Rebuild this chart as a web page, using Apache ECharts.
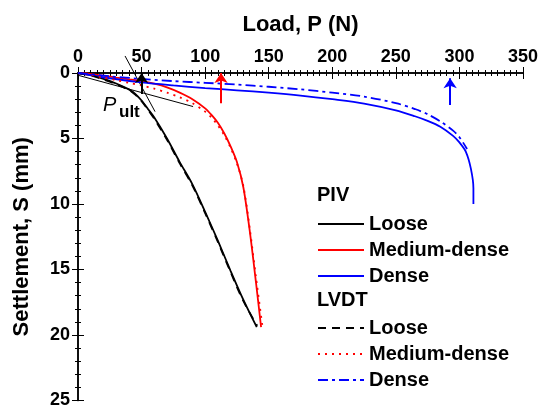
<!DOCTYPE html>
<html>
<head>
<meta charset="utf-8">
<script src="https://cdn.jsdelivr.net/npm/echarts@6/dist/echarts.min.js"></script>
<style>
  html, body { margin: 0; padding: 0; background: #fff; }
  #chart { width: 539px; height: 409px; }
</style>
</head>
<body>
<div id="chart"></div>
<script>
// Load P (N) and settlement S (mm), PIV measurements
const looseLoadPIV   = [0, 10, 20, 30, 40, 45, 50, 55, 60, 70, 80, 90, 100, 110, 120, 130, 140.6];
const looseSettPIV   = [0, 0.15, 0.45, 0.8, 1.25, 1.6, 2.1, 2.75, 3.4, 5.0, 6.8, 8.5, 10.6, 12.8, 15.1, 17.3, 19.4];
const mediumLoadPIV  = [0, 10, 20, 30, 40, 50, 60, 70, 80, 90, 100, 105, 110, 115, 120, 125, 130, 135, 140, 144];
const mediumSettPIV  = [0, 0.08, 0.2, 0.35, 0.48, 0.62, 0.82, 1.1, 1.5, 2.0, 2.7, 3.2, 3.8, 4.6, 5.6, 6.8, 8.7, 12.0, 16.0, 19.4];
const denseLoadPIV   = [0, 25, 50, 75, 100, 125, 150, 175, 200, 225, 250, 265, 275, 285, 295, 300, 305, 309, 311, 311];
const denseSettPIV   = [0, 0.4, 0.72, 0.95, 1.15, 1.32, 1.5, 1.72, 2.0, 2.33, 2.85, 3.3, 3.65, 4.1, 4.8, 5.3, 6.0, 7.3, 8.8, 10.0];

// LVDT measurements
const looseLoadLVDT  = [0, 10, 20, 30, 40, 45, 50, 55, 60, 70, 80, 90, 100, 110, 120, 130, 141];
const looseSettLVDT  = [0, 0.18, 0.5, 0.85, 1.3, 1.65, 2.15, 2.8, 3.5, 5.1, 6.9, 8.6, 10.7, 12.9, 15.2, 17.4, 19.3];
const mediumLoadLVDT = [0, 10, 20, 30, 40, 50, 60, 70, 80, 90, 100, 105, 110, 115, 120, 125, 130, 135, 140, 145];
const mediumSettLVDT = [0, 0.15, 0.35, 0.55, 0.75, 0.95, 1.2, 1.5, 1.85, 2.3, 2.95, 3.4, 4.0, 4.75, 5.7, 6.9, 8.6, 11.8, 15.6, 19.3];
const denseLoadLVDT  = [0, 25, 50, 75, 100, 125, 150, 175, 200, 225, 250, 265, 275, 285, 295, 300, 306];
const denseSettLVDT  = [0, 0.25, 0.45, 0.62, 0.75, 0.88, 1.05, 1.25, 1.5, 1.8, 2.3, 2.75, 3.15, 3.7, 4.4, 4.9, 5.8];

// Tangent construction for the ultimate load of the loose sand
const tangentInitialLoad = [-35.7, 90.5];
const tangentInitialSett = [-0.77, 2.56];
const tangentFinalLoad   = [37, 60.6];
const tangentFinalSett   = [-1.3, 2.95];

// Ultimate-load arrows: load, tail settlement, head settlement
const arrowLoad     = [50, 112.5, 292.7];
const arrowTailSett = [1.6, 2.3, 2.45];
const arrowHeadSett = [0.0, 0.0, 0.4];

const xTicks = [0, 50, 100, 150, 200, 250, 300, 350];
const yTicks = [0, 5, 10, 15, 20, 25];

const BLACK = '#000000', RED = '#ff0000', BLUE = '#0000ff';
const FONT = '"Liberation Sans", Arial, sans-serif';

const zip = (xs, ys) => xs.map((x, i) => [x, ys[i]]);

function curve(name, xs, ys, color, type) {
  return {
    name, type: 'line', data: zip(xs, ys), showSymbol: false, symbol: 'none',
    smooth: 0.3, lineStyle: { color, width: 1.8, type }, itemStyle: { color },
    silent: true, z: 3
  };
}

const chart = echarts.init(document.getElementById('chart'), null, { renderer: 'canvas' });

const axisCommon = {
  type: 'value',
  axisLine: { show: true, lineStyle: { color: BLACK, width: 1.5 } },
  splitLine: { show: false },
  axisTick: { show: true, inside: true, length: 6, lineStyle: { color: BLACK, width: 1 } },
  minorTick: { show: true, length: 3, lineStyle: { color: BLACK, width: 1 } },
};

const legendCommon = {
  orient: 'vertical', left: 312, itemWidth: 46, itemHeight: 14, itemGap: 6,
  selectedMode: false,
  itemStyle: { opacity: 0 },
  textStyle: { color: BLACK, fontSize: 20, fontWeight: 'bold', fontFamily: FONT, lineHeight: 20 }
};

const arrowColors = [BLACK, RED, BLUE];

chart.setOption({
  animation: false,
  backgroundColor: '#fff',
  textStyle: { fontFamily: FONT },
  grid: { left: 78, right: 16, top: 73, bottom: 8.5, containLabel: false, outerBoundsMode: 'none' },
  xAxis: [
    Object.assign({}, axisCommon, {
      position: 'top', min: xTicks[0], max: xTicks[xTicks.length - 1], interval: 50,
      minorTick: Object.assign({}, axisCommon.minorTick, { splitNumber: 10 }),
      axisLabel: { show: true, color: BLACK, fontSize: 18, fontWeight: 'bold', fontFamily: FONT, margin: 7,
                   showMinLabel: true, showMaxLabel: true },
      name: 'Load, P (N)', nameLocation: 'middle', nameGap: 37, nameMoveOverlap: false,
      nameTextStyle: { color: BLACK, fontSize: 22, fontWeight: 'bold', fontFamily: FONT }
    }),
    Object.assign({}, axisCommon, {
      position: 'bottom', min: xTicks[0], max: xTicks[xTicks.length - 1], interval: 50,
      minorTick: Object.assign({}, axisCommon.minorTick, { splitNumber: 10 }),
      axisLabel: { show: false }
    })
  ],
  yAxis: [
    Object.assign({}, axisCommon, {
      position: 'left', inverse: true, min: yTicks[0], max: yTicks[yTicks.length - 1], interval: 5,
      minorTick: Object.assign({}, axisCommon.minorTick, { splitNumber: 5 }),
      axisLabel: { show: true, color: BLACK, fontSize: 18, fontWeight: 'bold', fontFamily: FONT, margin: 8,
                   showMinLabel: true, showMaxLabel: true },
      name: 'Settlement, S (mm)', nameLocation: 'middle', nameGap: 45, nameRotate: 90, nameMoveOverlap: false,
      nameTextStyle: { color: BLACK, fontSize: 22, fontWeight: 'bold', fontFamily: FONT }
    }),
    Object.assign({}, axisCommon, {
      position: 'right', inverse: true, min: yTicks[0], max: yTicks[yTicks.length - 1], interval: 5,
      minorTick: Object.assign({}, axisCommon.minorTick, { splitNumber: 5 }),
      axisLabel: { show: false }
    })
  ],
  legend: [
    Object.assign({}, legendCommon, {
      data: ['PIV Loose', 'PIV Medium-dense', 'PIV Dense'], top: 209,
      formatter: n => n.replace(/^PIV /, '')
    }),
    Object.assign({}, legendCommon, {
      data: ['LVDT Loose', 'LVDT Medium-dense', 'LVDT Dense'], top: 313,
      formatter: n => n.replace(/^LVDT /, '')
    })
  ],
  graphic: [
    { type: 'text', left: 317, top: 185, style: { text: 'PIV', fill: BLACK, font: 'bold 20px ' + FONT } },
    { type: 'text', left: 317, top: 290, style: { text: 'LVDT', fill: BLACK, font: 'bold 20px ' + FONT } },
    { type: 'text', x: 103, y: 105, style: { text: 'P', fill: BLACK, font: 'italic 20px ' + FONT, verticalAlign: 'middle' } },
    { type: 'text', x: 119, y: 112, style: { text: 'ult', fill: BLACK, font: 'bold 17px ' + FONT, verticalAlign: 'middle' } }
  ],
  series: [
    curve('PIV Loose', looseLoadPIV, looseSettPIV, BLACK, 'solid'),
    curve('PIV Medium-dense', mediumLoadPIV, mediumSettPIV, RED, 'solid'),
    curve('PIV Dense', denseLoadPIV, denseSettPIV, BLUE, 'solid'),
    curve('LVDT Loose', looseLoadLVDT, looseSettLVDT, BLACK, [8, 6]),
    curve('LVDT Medium-dense', mediumLoadLVDT, mediumSettLVDT, RED, [2, 5]),
    curve('LVDT Dense', denseLoadLVDT, denseSettLVDT, BLUE, [10, 4, 3, 4]),
    {
      type: 'line', data: zip(tangentInitialLoad, tangentInitialSett), symbol: 'none', clip: false,
      lineStyle: { color: BLACK, width: 1 }, silent: true, z: 2
    },
    {
      type: 'line', data: zip(tangentFinalLoad, tangentFinalSett), symbol: 'none', clip: false,
      lineStyle: { color: BLACK, width: 1 }, silent: true, z: 2
    },
    {
      type: 'lines', coordinateSystem: 'cartesian2d', xAxisIndex: 0, yAxisIndex: 0,
      symbol: ['none', 'arrow'], symbolSize: 10, silent: true, z: 4,
      data: arrowLoad.map((p, i) => ({
        coords: [[p, arrowTailSett[i]], [p, arrowHeadSett[i]]],
        lineStyle: { color: arrowColors[i], width: 2 }
      })),
      lineStyle: { opacity: 1 }
    }
  ]
});
</script>
</body>
</html>
